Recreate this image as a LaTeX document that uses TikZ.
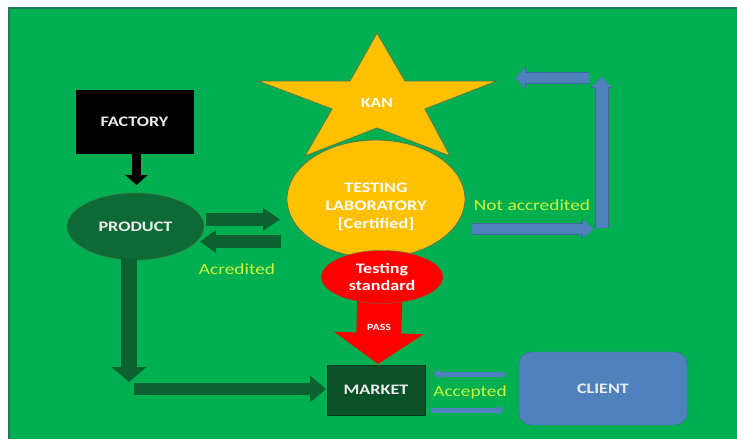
\documentclass[tikz,border=0pt]{standalone}
\usepackage{fontspec}
\setmainfont{Carlito}[FakeStretch=1.25]
\usetikzlibrary{shapes.geometric,arrows.meta}
\definecolor{bggreen}{HTML}{00B050}
\definecolor{bgedge}{HTML}{1E7A5C}
\definecolor{gold}{HTML}{FFC000}
\definecolor{shapeedge}{HTML}{4E7A52}
\definecolor{darkgreen}{HTML}{0C6130}
\definecolor{prodgreen}{HTML}{0E6A35}
\definecolor{marketgreen}{HTML}{0A5128}
\definecolor{steelblue}{HTML}{4F81BD}
\definecolor{blueedge}{HTML}{3E6AA0}
\definecolor{lime}{HTML}{CCF53A}
\definecolor{pale}{HTML}{ECECEC}
\tikzset{
  lbl/.style={font=\fontsize{14.5}{16}\selectfont\bfseries, text=pale, align=center, inner sep=0pt},
  note/.style={font=\fontsize{15.5}{17}\selectfont, text=lime, inner sep=0pt},
}
\begin{document}
\begin{tikzpicture}[x=1pt,y=-1pt]
\useasboundingbox (0,0) rectangle (737,439);
\fill[white] (0,0) rectangle (737,439);
\fill[bggreen] (9,8) rectangle (737,439);
\draw[bgedge, line width=1.2pt] (9,439) -- (9,8) -- (737,8);

% KAN star
\coordinate (s1) at (377,33);
\coordinate (s2) at (405,81);
\coordinate (s3) at (497,81);
\coordinate (s4) at (425,109);
\coordinate (s5) at (450,156);
\coordinate (s6) at (377,128);
\coordinate (s7) at (305,156);
\coordinate (s8) at (332,109);
\coordinate (s9) at (258,81);
\coordinate (s10) at (350,81);
\draw[fill=gold, draw=shapeedge, line width=0.8pt] (s1) -- (s2) -- (s3) -- (s4) -- (s5) -- (s6) -- (s7) -- (s8) -- (s9) -- (s10) -- cycle;
\node[lbl, font=\fontsize{14}{16}\selectfont\bfseries, text=white] (kan) at (377,103) {KAN};

% main shapes
\node[draw=black, fill=black, minimum width=117pt, minimum height=63pt, lbl] (factory) at (134.5,121.5) {FACTORY};
\node[ellipse, draw=shapeedge, fill=prodgreen, minimum width=137pt, minimum height=67pt, lbl] (product) at (135.5,226.5) {PRODUCT};
\node[ellipse, draw=shapeedge, line width=0.8pt, fill=gold, minimum width=178pt, minimum height=118pt, lbl, text=white] (lab) at (376,199) {};
\node[lbl, text=white, font=\fontsize{14.5}{18}\selectfont\bfseries] (labtxt) at (376,206.5) {TESTING\\LABORATORY\\{[Certified]}};

% PASS block arrow
\coordinate (passtop) at (380,290);
\coordinate (passtip) at (378,364);
\draw[red, line width=45pt, -{Triangle[width=88pt,length=31pt]}] (passtop) -- (passtip);
\node[font=\fontsize{9.5}{10}\selectfont\bfseries, text=white] (pass) at (379,327) {PASS};

\node[ellipse, draw=shapeedge, fill=red, minimum width=122pt, minimum height=53pt, lbl, text=white, font=\fontsize{14.5}{17.5}\selectfont\bfseries] (std) at (382,277) {Testing\\standard};
\node[draw=marketgreen!70!black, fill=marketgreen, minimum width=98pt, minimum height=50pt, lbl] (market) at (376,390) {MARKET};
\node[draw=blueedge, fill=steelblue, rounded corners=12pt, minimum width=168pt, minimum height=73pt, lbl] (client) at (603,388.5) {CLIENT};

% factory to product
\coordinate (f1) at (136.5,153);
\coordinate (f2) at (136.5,185);
\draw[black, line width=9pt, -{Triangle[width=22pt,length=10pt]}] (f1) -- (f2);

% product <-> laboratory
\coordinate (pr1) at (206,219.5);
\coordinate (pr2) at (280,219.5);
\coordinate (pl1) at (281,241.5);
\coordinate (pl2) at (200,241.5);
\draw[darkgreen, line width=13pt, -{Triangle[width=22pt,length=17pt]}] (pr1) -- (pr2);
\draw[darkgreen, line width=13pt, -{Triangle[width=22pt,length=16pt]}] (pl1) -- (pl2);
\node[note] (acr) at (237,269) {Acredited};

% product to market
\coordinate (d1) at (129,258);
\coordinate (d2) at (129,382);
\coordinate (h1) at (134,389);
\coordinate (h2) at (326,389);
\draw[darkgreen, line width=16pt, -{Triangle[width=34pt,length=15pt]}] (d1) -- (d2);
\draw[darkgreen, line width=12pt, -{Triangle[width=26pt,length=16pt]}] (h1) -- (h2);

% not accredited loop back to KAN
\coordinate (n1) at (472,229);
\coordinate (n2) at (594,229);
\coordinate (n3) at (601.5,228);
\coordinate (n4) at (601.5,77);
\coordinate (n5) at (589,78);
\coordinate (n6) at (515,78);
\draw[blueedge, line width=11.5pt, -{Triangle[width=19.5pt,length=12pt]}] (n1) -- (n2);
\draw[steelblue, line width=9.5pt, -{Triangle[width=17pt,length=11pt]}] (n1) -- (n2);
\draw[blueedge, line width=14pt, -{Triangle[width=20.5pt,length=11pt]}] (n3) -- (n4);
\draw[steelblue, line width=12pt, -{Triangle[width=18.5pt,length=10pt]}] (n3) -- (n4);
\draw[blueedge, line width=11.5pt, -{Triangle[width=21.5pt,length=11pt]}] (n5) -- (n6);
\draw[steelblue, line width=9.5pt, -{Triangle[width=19pt,length=10pt]}] (n5) -- (n6);
\node[note] (notacc) at (532,205) {Not accredited};

% market <-> client
\coordinate (c1) at (505,374);
\coordinate (c2) at (433,374);
\coordinate (c3) at (431,410);
\coordinate (c4) at (504,410);
\draw[steelblue, line width=5pt, -{Triangle[width=10pt,length=7pt]}] (c1) -- (c2);
\draw[steelblue, line width=5pt, -{Triangle[width=10pt,length=7pt]}] (c3) -- (c4);
\node[note] (acc) at (470,392) {Accepted};
\end{tikzpicture}
\end{document}
